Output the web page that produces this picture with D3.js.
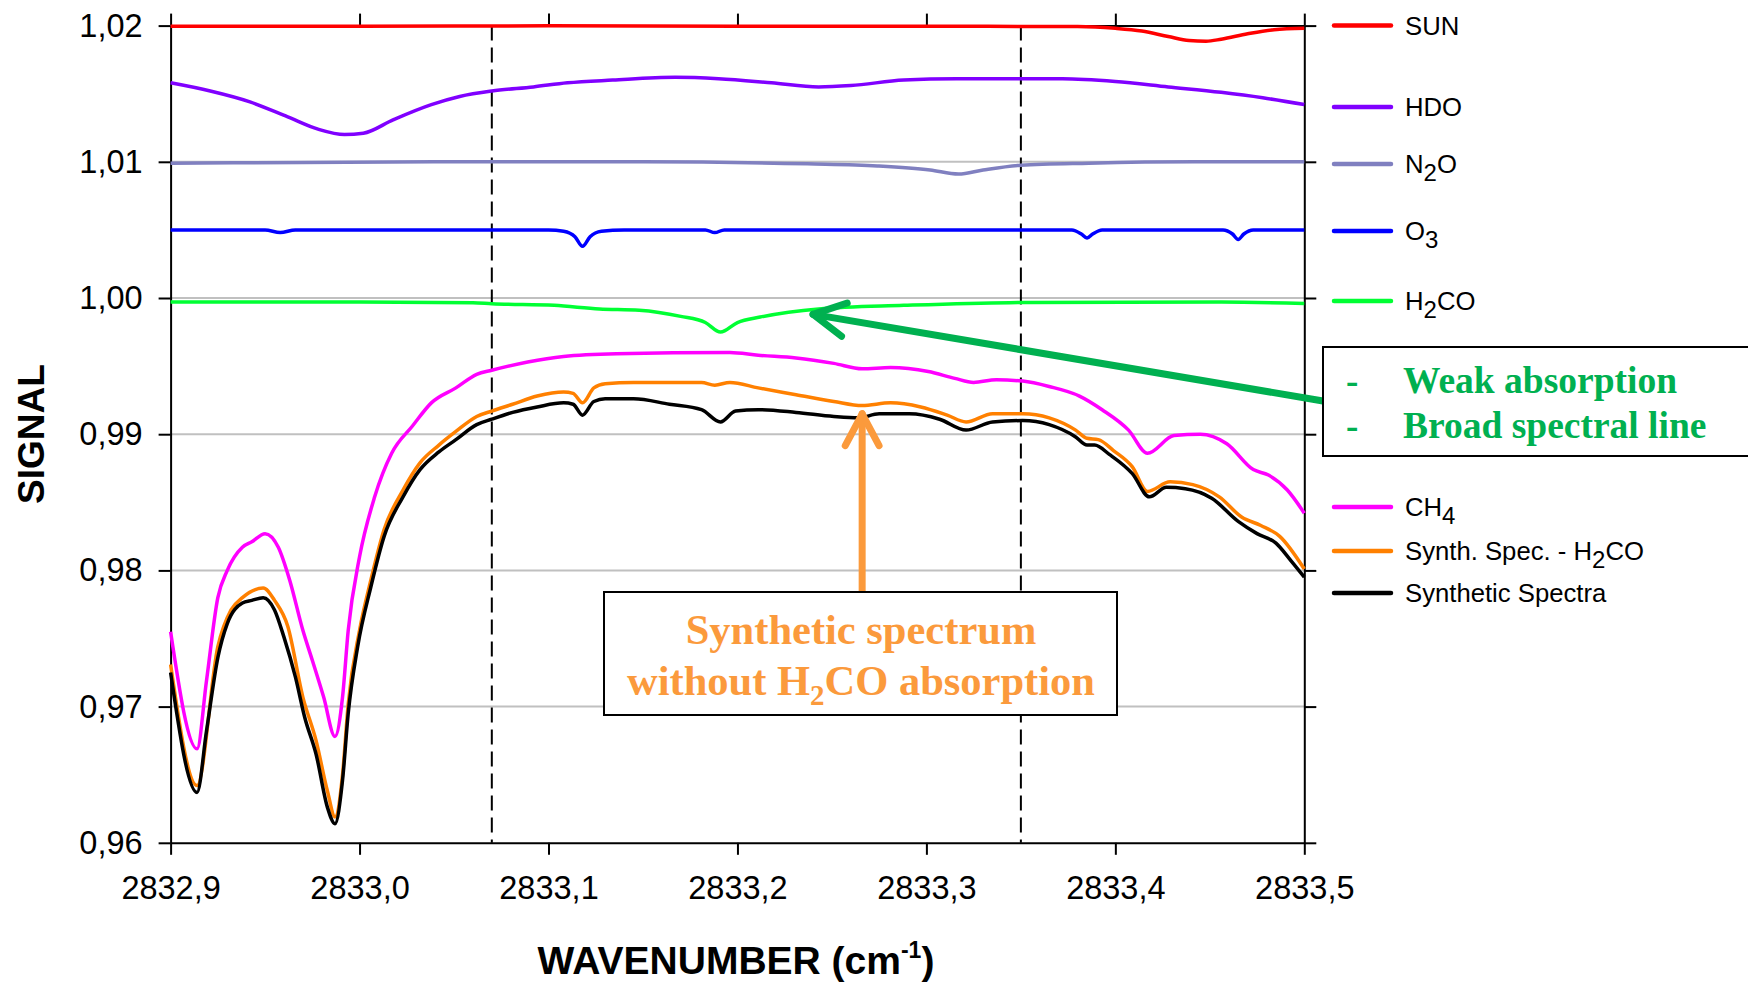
<!DOCTYPE html>
<html>
<head>
<meta charset="utf-8">
<script src="https://cdn.jsdelivr.net/npm/d3@7"></script>
<style>
  body { margin: 0; background: #fff; }
  svg { display: block; }
</style>
</head>
<body>
<script>
// wavenumber (cm-1) / signal pairs
const sun = [
  [2832.900, 1.01995], [2833.000, 1.01995], [2833.100, 1.01998], [2833.200, 1.01995],
  [2833.300, 1.01995], [2833.380, 1.01993], [2833.400, 1.0198], [2833.414, 1.0196],
  [2833.428, 1.0192], [2833.439, 1.0189], [2833.448, 1.01885], [2833.456, 1.0190],
  [2833.470, 1.0194], [2833.484, 1.0197], [2833.500, 1.0198],
];
const hdo = [
  [2832.900, 1.0158], [2832.921, 1.0152], [2832.942, 1.0144], [2832.962, 1.0133],
  [2832.978, 1.0124], [2832.992, 1.0120], [2833.002, 1.0121], [2833.018, 1.0131],
  [2833.038, 1.0142], [2833.053, 1.0148], [2833.070, 1.0152], [2833.092, 1.0155],
  [2833.110, 1.0158], [2833.134, 1.0160], [2833.167, 1.0162], [2833.190, 1.0161],
  [2833.218, 1.0158], [2833.243, 1.0155], [2833.260, 1.0156], [2833.288, 1.0160],
  [2833.316, 1.0161], [2833.350, 1.0161], [2833.372, 1.0161], [2833.400, 1.0159],
  [2833.428, 1.0155], [2833.456, 1.0151], [2833.478, 1.0147], [2833.500, 1.0142],
];
const n2o = [
  [2832.900, 1.0099], [2832.970, 1.00995], [2833.050, 1.0100], [2833.150, 1.0100],
  [2833.237, 1.00985], [2833.274, 1.0097], [2833.302, 1.0094], [2833.317, 1.0091],
  [2833.330, 1.0094], [2833.350, 1.00975], [2833.386, 1.0099], [2833.442, 1.0100],
  [2833.500, 1.0100],
];
const o3 = [
  [2832.900, 1.0050], [2832.950, 1.0050], [2832.958, 1.0048], [2832.966, 1.0050],
  [2833.100, 1.0050], [2833.108, 1.0049], [2833.114, 1.0045], [2833.118, 1.0038],
  [2833.122, 1.0045], [2833.128, 1.0049], [2833.140, 1.0050], [2833.183, 1.0050],
  [2833.188, 1.0048], [2833.193, 1.0050], [2833.377, 1.0050], [2833.382, 1.0047],
  [2833.385, 1.0044], [2833.388, 1.0047], [2833.393, 1.0050], [2833.457, 1.0050],
  [2833.462, 1.0047], [2833.465, 1.0043], [2833.468, 1.0047], [2833.473, 1.0050],
  [2833.500, 1.0050],
];
const h2co = [
  [2832.900, 0.9997], [2833.000, 0.9997], [2833.060, 0.99966], [2833.070, 0.99958],
  [2833.103, 0.99946], [2833.127, 0.9992], [2833.148, 0.9991], [2833.170, 0.99865],
  [2833.183, 0.9982], [2833.191, 0.9975], [2833.200, 0.9982], [2833.212, 0.9986],
  [2833.243, 0.9992], [2833.288, 0.99946], [2833.344, 0.99966], [2833.456, 0.9997],
  [2833.500, 0.9996],
];
const ch4 = [
  [2832.900, 0.9755], [2832.914, 0.9669], [2832.919, 0.9719], [2832.925, 0.9780],
  [2832.930, 0.9800], [2832.938, 0.9817], [2832.943, 0.9821], [2832.950, 0.9827],
  [2832.957, 0.9817], [2832.963, 0.9793], [2832.970, 0.9756], [2832.975, 0.9734],
  [2832.981, 0.9707], [2832.987, 0.9678], [2832.991, 0.9707], [2832.994, 0.9756],
  [2833.000, 0.9810], [2833.008, 0.9854], [2833.017, 0.9886], [2833.028, 0.9906],
  [2833.038, 0.9923], [2833.051, 0.9934], [2833.062, 0.9944], [2833.070, 0.9947],
  [2833.089, 0.9953], [2833.108, 0.9957], [2833.136, 0.9959], [2833.196, 0.9960],
  [2833.211, 0.9958], [2833.231, 0.9956], [2833.251, 0.9952], [2833.266, 0.9948],
  [2833.281, 0.9949], [2833.301, 0.9946], [2833.315, 0.9941], [2833.325, 0.9938],
  [2833.337, 0.9940], [2833.351, 0.9939], [2833.365, 0.9935], [2833.381, 0.9928],
  [2833.393, 0.9918], [2833.407, 0.9903], [2833.417, 0.9886], [2833.431, 0.9899],
  [2833.445, 0.9900], [2833.459, 0.9893], [2833.473, 0.9874], [2833.481, 0.9870],
  [2833.491, 0.9859], [2833.500, 0.9842],
];
const synthNoH2co = [
  [2832.900, 0.9731], [2832.914, 0.9642], [2832.925, 0.9744], [2832.932, 0.9771],
  [2832.938, 0.9780], [2832.949, 0.9787], [2832.955, 0.9778], [2832.962, 0.9759],
  [2832.970, 0.9707], [2832.977, 0.9675], [2832.983, 0.9638], [2832.987, 0.9619],
  [2832.991, 0.9650], [2832.994, 0.9702], [2833.000, 0.9756], [2833.006, 0.9793],
  [2833.013, 0.9830], [2833.023, 0.9859], [2833.032, 0.9879], [2833.042, 0.9892],
  [2833.051, 0.9902], [2833.062, 0.9913], [2833.070, 0.9917], [2833.081, 0.9922],
  [2833.094, 0.9928], [2833.108, 0.9931], [2833.113, 0.9930], [2833.118, 0.9923],
  [2833.124, 0.9934], [2833.130, 0.9937], [2833.145, 0.9938], [2833.164, 0.9938],
  [2833.181, 0.9938], [2833.188, 0.9936], [2833.196, 0.9938], [2833.211, 0.9934],
  [2833.231, 0.9929], [2833.251, 0.9924], [2833.266, 0.9921], [2833.281, 0.9923],
  [2833.297, 0.9920], [2833.311, 0.9914], [2833.321, 0.9909], [2833.335, 0.9915],
  [2833.351, 0.9915], [2833.365, 0.9912], [2833.379, 0.9903], [2833.385, 0.9897],
  [2833.391, 0.9896], [2833.399, 0.9888], [2833.409, 0.9876], [2833.417, 0.9858],
  [2833.429, 0.9865], [2833.441, 0.9863], [2833.455, 0.9854], [2833.467, 0.9839],
  [2833.477, 0.9833], [2833.487, 0.9825], [2833.500, 0.9801],
];
const synth = [
  [2832.900, 0.9725], [2832.914, 0.9637], [2832.919, 0.9682], [2832.925, 0.9736],
  [2832.930, 0.9761], [2832.938, 0.9776], [2832.943, 0.9778], [2832.949, 0.9780],
  [2832.955, 0.9771], [2832.960, 0.9751], [2832.966, 0.9722], [2832.971, 0.9692],
  [2832.977, 0.9665], [2832.983, 0.9626], [2832.987, 0.9614], [2832.991, 0.9646],
  [2832.994, 0.9695], [2832.999, 0.9744], [2833.006, 0.9788], [2833.013, 0.9825],
  [2833.023, 0.9854], [2833.032, 0.9874], [2833.042, 0.9887], [2833.051, 0.9896],
  [2833.062, 0.9907], [2833.070, 0.9911], [2833.081, 0.9916], [2833.094, 0.9920],
  [2833.108, 0.9923], [2833.113, 0.9922], [2833.118, 0.9914], [2833.124, 0.9924],
  [2833.130, 0.9926], [2833.145, 0.9926], [2833.164, 0.9922], [2833.181, 0.9918],
  [2833.191, 0.9909], [2833.199, 0.9917], [2833.211, 0.9918], [2833.231, 0.9916],
  [2833.251, 0.9913], [2833.264, 0.9912], [2833.275, 0.9915], [2833.291, 0.9915],
  [2833.307, 0.9911], [2833.321, 0.9903], [2833.335, 0.9909], [2833.351, 0.9910],
  [2833.365, 0.9907], [2833.379, 0.9898], [2833.385, 0.9892], [2833.389, 0.9892],
  [2833.397, 0.9885], [2833.409, 0.9871], [2833.418, 0.9854], [2833.427, 0.9861],
  [2833.437, 0.9860], [2833.451, 0.9853], [2833.465, 0.9836], [2833.475, 0.9827],
  [2833.485, 0.9820], [2833.493, 0.9807], [2833.500, 0.9795],
];

const seriesNames = ["SUN", "HDO", "N2O", "O3", "H2CO", "CH4", "Synth. Spec. - H2CO", "Synthetic Spectra"];
const seriesData = [sun, hdo, n2o, o3, h2co, ch4, synthNoH2co, synth];
const seriesColors = ["#ff0000", "#8000ff", "#8080c0", "#0000ff", "#00ff33", "#ff00ff", "#ff8000", "#000000"];

const xTicks = [2832.9, 2833.0, 2833.1, 2833.2, 2833.3, 2833.4, 2833.5];
const yTicks = [0.96, 0.97, 0.98, 0.99, 1.00, 1.01, 1.02];
const markers = [2833.07, 2833.35]; // dashed window limits

const W = 1748, H = 983;
const SANS = "'Liberation Sans', Arial, sans-serif";
const SERIF = "'Liberation Serif', 'Times New Roman', serif";

const svg = d3.select("body").append("svg").attr("width", W).attr("height", H);

const x = d3.scaleLinear().domain([2832.9, 2833.5]).range([170.6, 1304.3]);
const y = d3.scaleLinear().domain([0.96, 1.02]).range([842.8, 25.6]);

const fmtX = (d) => d.toFixed(1).replace(".", ",");
const fmtY = (d) => d.toFixed(2).replace(".", ",");

// grid
svg.append("g")
  .selectAll("line")
  .data(yTicks.slice(1, -1))
  .join("line")
  .attr("x1", x.range()[0])
  .attr("x2", x.range()[1])
  .attr("y1", (d) => y(d))
  .attr("y2", (d) => y(d))
  .attr("stroke", "#c0c0c0")
  .attr("stroke-width", 2);

// dashed window
svg.append("g")
  .selectAll("line")
  .data(markers)
  .join("line")
  .attr("x1", (d) => x(d))
  .attr("x2", (d) => x(d))
  .attr("y1", y(1.02))
  .attr("y2", y(0.96))
  .attr("stroke", "#000")
  .attr("stroke-width", 2)
  .attr("stroke-dasharray", "15,7");

// axes
function styleAxis(g) {
  g.select(".domain").attr("stroke", "#000").attr("stroke-width", 2);
  g.selectAll(".tick line").attr("stroke", "#000").attr("stroke-width", 2);
  g.selectAll(".tick text").attr("font-family", SANS).attr("font-size", 32.5).attr("fill", "#000");
}

svg.append("g")
  .attr("transform", `translate(0,${y(0.96)})`)
  .call(d3.axisBottom(x).tickValues(xTicks).tickFormat(fmtX).tickSize(12).tickSizeOuter(0).tickPadding(21))
  .call(styleAxis);
svg.append("g")
  .attr("transform", `translate(0,${y(1.02)})`)
  .call(d3.axisTop(x).tickValues(xTicks).tickSize(12).tickSizeOuter(0))
  .call(styleAxis)
  .call((g) => g.selectAll(".tick text").remove());
svg.append("g")
  .attr("transform", `translate(${x(2832.9)},0)`)
  .call(d3.axisLeft(y).tickValues(yTicks).tickFormat(fmtY).tickSize(12).tickSizeOuter(0).tickPadding(16))
  .call(styleAxis);
svg.append("g")
  .attr("transform", `translate(${x(2833.5)},0)`)
  .call(d3.axisRight(y).tickValues(yTicks).tickSize(12).tickSizeOuter(0))
  .call(styleAxis)
  .call((g) => g.selectAll(".tick text").remove());

// spectra
const line = d3.line()
  .x((d) => x(d[0]))
  .y((d) => y(d[1]))
  .curve(d3.curveMonotoneX);

svg.append("g")
  .selectAll("path")
  .data(seriesData)
  .join("path")
  .attr("d", line)
  .attr("fill", "none")
  .attr("stroke", (d, i) => seriesColors[i])
  .attr("stroke-width", 3.5)
  .attr("stroke-linejoin", "round");

// text with digits as subscripts (chemical formulas)
function formula(sel, str, subSize, shift) {
  let low = false;
  str.split(/(\d)/).filter((s) => s !== "").forEach((part) => {
    const isSub = /^\d$/.test(part);
    const ts = sel.append("tspan").text(part);
    if (isSub) ts.attr("font-size", subSize);
    if (isSub && !low) ts.attr("dy", shift);
    if (!isSub && low) ts.attr("dy", -shift);
    low = isSub;
  });
}

// legend (rows placed next to the curves, as in the figure)
const legendRows = [25.6, 107, 164, 231, 301, 507, 551, 593];
const legend = svg.append("g");
seriesNames.forEach((name, i) => {
  const ly = legendRows[i];
  legend.append("line")
    .attr("x1", 1334).attr("x2", 1391)
    .attr("y1", ly).attr("y2", ly)
    .attr("stroke", seriesColors[i])
    .attr("stroke-width", 4.5)
    .attr("stroke-linecap", "round");
  const t = legend.append("text")
    .attr("x", 1405).attr("y", ly + 9)
    .attr("font-family", SANS).attr("font-size", 25.7).attr("fill", "#000");
  formula(t, name, 24, 8);
});

// axis titles
svg.append("text")
  .attr("transform", "translate(31,434) rotate(-90)")
  .attr("text-anchor", "middle")
  .attr("dominant-baseline", "central")
  .attr("font-family", SANS).attr("font-size", 37).attr("font-weight", "bold")
  .text("SIGNAL");

const xt = svg.append("text")
  .attr("x", 736).attr("y", 974)
  .attr("text-anchor", "middle")
  .attr("font-family", SANS).attr("font-size", 39).attr("font-weight", "bold");
xt.append("tspan").text("WAVENUMBER (cm");
xt.append("tspan").attr("dy", -16).attr("font-size", 23).text("-1");
xt.append("tspan").attr("dy", 16).text(")");

// arrows with open V heads
function arrow(tail, tip, color) {
  const g = svg.append("g")
    .attr("stroke", color).attr("stroke-width", 7)
    .attr("stroke-linecap", "round").attr("stroke-linejoin", "round").attr("fill", "none");
  g.append("line").attr("x1", tail[0]).attr("y1", tail[1]).attr("x2", tip[0]).attr("y2", tip[1]);
  const a = Math.atan2(tail[1] - tip[1], tail[0] - tip[0]);
  const len = 36, spread = 28 * Math.PI / 180;
  const p1 = [tip[0] + len * Math.cos(a - spread), tip[1] + len * Math.sin(a - spread)];
  const p2 = [tip[0] + len * Math.cos(a + spread), tip[1] + len * Math.sin(a + spread)];
  g.append("path").attr("d", `M${p1}L${tip}L${p2}`);
}

const GREEN = "#00b050";
const ORANGE = "#fb9a3c";

// green note
arrow([1323, 401], [x(2833.24), y(0.9988)], GREEN);
svg.append("rect")
  .attr("x", 1323).attr("y", 347).attr("width", 460).attr("height", 109)
  .attr("fill", "#fff").attr("stroke", "#000").attr("stroke-width", 2);
const notes = ["Weak absorption", "Broad spectral line"];
notes.forEach((s, i) => {
  const by = 393 + i * 45;
  svg.append("text").attr("x", 1346).attr("y", by)
    .attr("font-family", SERIF).attr("font-size", 37).attr("font-weight", "bold").attr("fill", GREEN)
    .text("-");
  svg.append("text").attr("x", 1403).attr("y", by)
    .attr("font-family", SERIF).attr("font-size", 37.5).attr("font-weight", "bold").attr("fill", GREEN)
    .text(s);
});

// orange note
arrow([x(2833.266), 592], [x(2833.266), y(0.9915)], ORANGE);
svg.append("rect")
  .attr("x", 604).attr("y", 592).attr("width", 513).attr("height", 123)
  .attr("fill", "#fff").attr("stroke", "#000").attr("stroke-width", 2);
svg.append("text").attr("x", 861).attr("y", 644).attr("text-anchor", "middle")
  .attr("font-family", SERIF).attr("font-size", 42.5).attr("font-weight", "bold").attr("fill", ORANGE)
  .text("Synthetic spectrum");
const o2 = svg.append("text").attr("x", 861).attr("y", 695).attr("text-anchor", "middle")
  .attr("font-family", SERIF).attr("font-size", 42.5).attr("font-weight", "bold").attr("fill", ORANGE);
o2.append("tspan").text("without H");
o2.append("tspan").attr("dy", 10).attr("font-size", 29).text("2");
o2.append("tspan").attr("dy", -10).text("CO absorption");
</script>
</body>
</html>
